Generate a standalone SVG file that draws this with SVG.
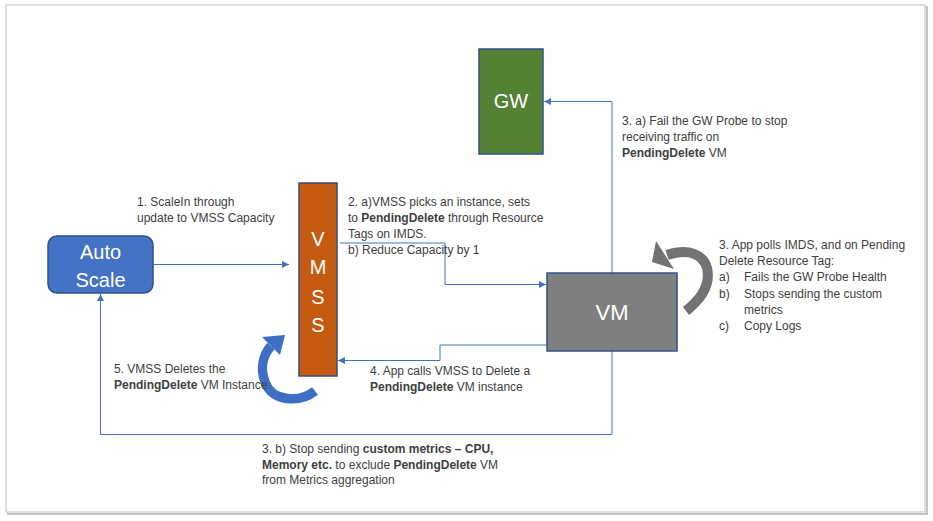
<svg xmlns="http://www.w3.org/2000/svg" width="933" height="521" viewBox="0 0 933 521">
<defs>
<style>
.t{font-family:"Liberation Sans",Arial,sans-serif;font-size:12px;fill:#404040}
.b{font-weight:bold}
.lbl{font-family:"Liberation Sans",Arial,sans-serif;fill:#ffffff;text-anchor:middle}
.c{fill:none;stroke:#4472C4;stroke-width:1}
</style>
<marker id="ah" markerUnits="userSpaceOnUse" markerWidth="8" markerHeight="8" refX="7" refY="3.5" orient="auto">
<path d="M0,0 L7,3.5 L0,7 z" fill="#4472C4"/>
</marker>
</defs>
<rect x="0" y="0" width="933" height="521" fill="#ffffff"/>
<g id="frame">
<rect x="8" y="7" width="919" height="507" fill="none" stroke="#c4c4c4" stroke-width="2"/>
<rect x="6" y="5" width="919" height="507" fill="#ffffff" stroke="#d6d6d6" stroke-width="1.5"/>
</g>
<g id="connectors">
<path class="c" d="M153,264.5 H289" marker-end="url(#ah)"/>
<path class="c" d="M340,243 H445 V284.5 H546" marker-end="url(#ah)"/>
<path class="c" d="M612,273 V101.5 H544" marker-end="url(#ah)"/>
<path class="c" d="M547,345 H440 V360.5 H338" marker-end="url(#ah)"/>
<path class="c" d="M612,351 V434.5 H100.5 V294" marker-end="url(#ah)"/>
</g>
<g id="autoscale">
<rect x="48" y="236" width="105" height="57" rx="9" ry="9" fill="#4472C4" stroke="#2F528F" stroke-width="1.5"/>
<text class="lbl" x="100.5" y="259" font-size="20">Auto</text>
<text class="lbl" x="100.5" y="287" font-size="20">Scale</text>
</g>
<g id="vmss">
<rect x="299" y="183" width="38" height="193" fill="#C55A11" stroke="#3B4E78" stroke-width="1.5"/>
<text class="lbl" x="318" y="246" font-size="20">V</text>
<text class="lbl" x="318" y="274" font-size="20">M</text>
<text class="lbl" x="318" y="304" font-size="20">S</text>
<text class="lbl" x="318" y="332" font-size="20">S</text>
</g>
<g id="gw">
<rect x="479" y="49" width="64" height="105" fill="#548235" stroke="#2F528F" stroke-width="1.5"/>
<text class="lbl" x="511" y="108" font-size="20">GW</text>
</g>
<g id="vm">
<rect x="547" y="273" width="130" height="78" fill="#7F7F7F" stroke="#2F528F" stroke-width="1.5"/>
<text class="lbl" x="612" y="320" font-size="22">VM</text>
</g>
<g id="loop-vmss">
<path d="M315,391 C300,403 272,402 265,382 C260,368 263,355 271,346" fill="none" stroke="#3F6FC4" stroke-width="9.5"/>
<polygon points="285,335 262,337 280,355" fill="#3F6FC4"/>
</g>
<g id="loop-vm">
<path d="M686,311 C700,300 711,285 707,268 C703,254 688,248 667,255" fill="none" stroke="#737373" stroke-width="10"/>
<polygon points="656,241 652,262 674,269" fill="#737373"/>
</g>
<g id="labels">
<text class="t" x="137" y="206">1. ScaleIn through</text>
<text class="t" x="137" y="222">update to VMSS Capacity</text>
<text class="t" x="348" y="206">2. a)VMSS picks an instance, sets</text>
<text class="t" x="348" y="222">to <tspan class="b">PendingDelete</tspan> through Resource</text>
<text class="t" x="348" y="238">Tags on IMDS.</text>
<text class="t" x="348" y="254">b) Reduce Capacity by 1</text>
<text class="t" x="622" y="125">3. a) Fail the GW Probe to stop</text>
<text class="t" x="622" y="141">receiving traffic on</text>
<text class="t" x="622" y="157"><tspan class="b">PendingDelete</tspan> VM</text>
<text class="t" x="719" y="249">3. App polls IMDS, and on Pending</text>
<text class="t" x="719" y="265">Delete Resource Tag:</text>
<text class="t" x="719" y="281">a)</text>
<text class="t" x="744" y="281">Fails the GW Probe Health</text>
<text class="t" x="719" y="298">b)</text>
<text class="t" x="744" y="298">Stops sending the custom</text>
<text class="t" x="744" y="314">metrics</text>
<text class="t" x="719" y="330">c)</text>
<text class="t" x="744" y="330">Copy Logs</text>
<text class="t" x="370" y="375">4. App calls VMSS to Delete a</text>
<text class="t" x="370" y="391"><tspan class="b">PendingDelete</tspan> VM instance</text>
<text class="t" x="114" y="373">5. VMSS Deletes the</text>
<text class="t" x="114" y="389"><tspan class="b">PendingDelete</tspan> VM Instance</text>
<text class="t" x="262" y="453">3. b) Stop sending <tspan class="b">custom metrics – CPU,</tspan></text>
<text class="t" x="262" y="469"><tspan class="b">Memory etc.</tspan> to exclude <tspan class="b">PendingDelete</tspan> VM</text>
<text class="t" x="262" y="484">from Metrics aggregation</text>
</g>
</svg>
